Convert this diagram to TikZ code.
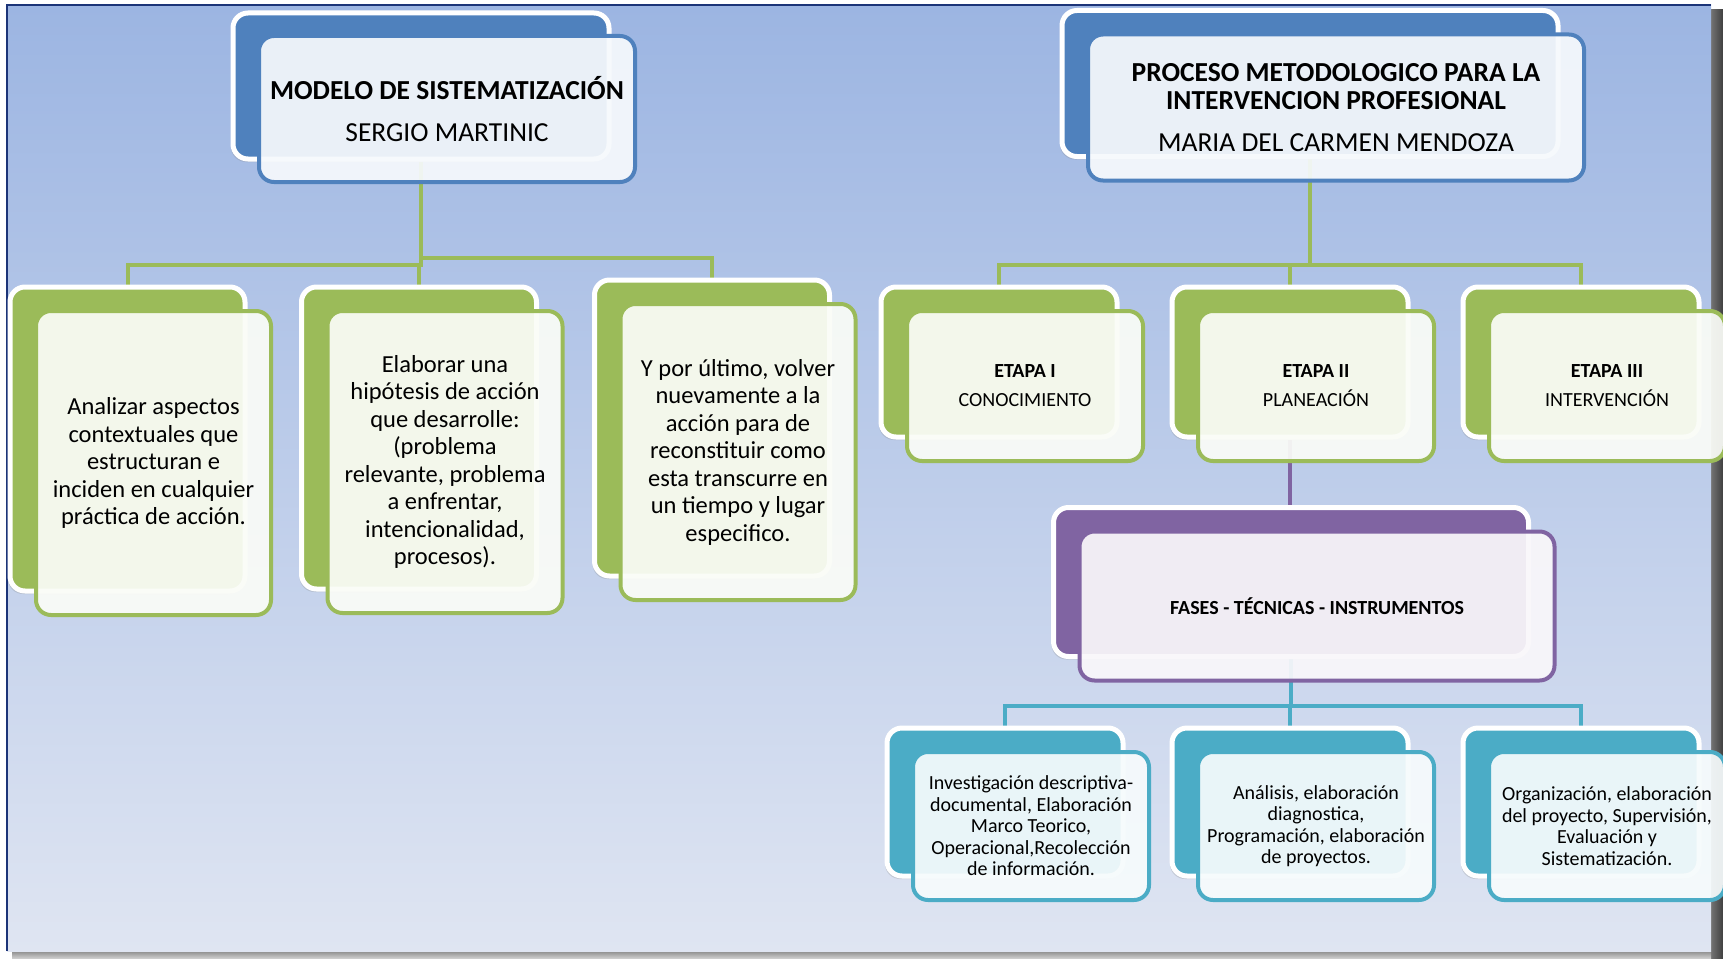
\documentclass[tikz,border=0pt]{standalone}
\usepackage{fontspec}
\setmainfont{Carlito}
\usetikzlibrary{shadows}

\definecolor{hdrblue}{RGB}{79,129,189}
\definecolor{leaf}{RGB}{155,187,89}
\definecolor{plum}{RGB}{128,100,162}
\definecolor{aqua}{RGB}{75,172,198}
\definecolor{skytop}{RGB}{156,181,226}
\definecolor{skybot}{RGB}{223,229,242}
\definecolor{navy}{RGB}{28,52,120}

\pgfdeclarelayer{bg}
\pgfdeclarelayer{links}
\pgfsetlayers{bg,links,main}

\begin{document}
\begin{tikzpicture}[
    x=1pt, y=-1pt,
    shell/.style={draw=white, line width=5pt, rounded corners=15pt, fill=#1, drop shadow={shadow xshift=-2pt, shadow yshift=-3pt, opacity=.25}},
    card/.style={draw=#1, line width=4pt, rounded corners=15pt, fill=#1!5!white, fill opacity=.93, text opacity=1, align=center},
    link/.style={draw=#1, line width=4pt},
    hdr/.style={minimum width=#1, minimum height=146pt, font=\fontsize{27.5}{28}\selectfont},
    tall/.style={minimum width=235pt, minimum height=#1, font=\fontsize{24.5}{27.5}\selectfont},
    stage/.style={minimum width=236pt, minimum height=150pt, font=\fontsize{20}{29}\selectfont},
    leafbox/.style={minimum width=236pt, minimum height=148pt, font=\fontsize{20}{21.5}\selectfont}
]
    \useasboundingbox (0,0) rectangle (1723,958);

    % page
    \begin{pgfonlayer}{bg}
    \fill[white] (0,0) rectangle (1723,958);
    \shade[left color=black!55, right color=black!75] (1711,10) rectangle (1723,958);
    \shade[top color=black!45, bottom color=black!20] (12,951) rectangle (1711,958);
    \shade[top color=skytop, bottom color=skybot] (7,5) rectangle (1711,951);
    \draw[navy, line width=2.5pt] (7,951) -- (7,5) -- (1711,5);
    \end{pgfonlayer}

    % left tree
    \node[shell=hdrblue, hdr=376pt] (modb) at (421,86) {};
    \node[card=hdrblue, hdr=376pt] (mod) at (447,109) {\textbf{MODELO DE SISTEMATIZACIÓN}\\[14pt] SERGIO MARTINIC};

    \node[shell=leaf, tall=304pt] (a1b) at (127.5,439) {};
    \node[card=leaf, tall=304pt] (a1) at (153.5,463) {Analizar aspectos\\ contextuales que\\ estructuran e\\ inciden en cualquier\\ práctica de acción.};
    \node[shell=leaf, tall=302pt] (a2b) at (419,438) {};
    \node[card=leaf, tall=302pt] (a2) at (445,462) {Elaborar una\\ hipótesis de acción\\ que desarrolle:\\ (problema\\ relevante, problema\\ a enfrentar,\\ intencionalidad,\\ procesos).};
    \node[shell=leaf, tall=296pt] (a3b) at (712,428) {};
    \node[card=leaf, tall=296pt] (a3) at (738,452) {Y por último, volver\\ nuevamente a la\\ acción para de\\ reconstituir como\\ esta transcurre en\\ un tiempo y lugar\\ especifico.};

    % right tree
    \node[shell=hdrblue, hdr=496pt] (procb) at (1310,83.5) {};
    \node[card=hdrblue, hdr=496pt] (proc) at (1336,107.5) {\textbf{PROCESO METODOLOGICO PARA LA}\\ \textbf{INTERVENCION PROFESIONAL}\\[14pt] MARIA DEL CARMEN MENDOZA};

    \node[shell=leaf, stage] (e1b) at (999,362) {};
    \node[card=leaf, stage] (e1) at (1025,386) {\textbf{ETAPA I}\\ CONOCIMIENTO};
    \node[shell=leaf, stage] (e2b) at (1290,362) {};
    \node[card=leaf, stage] (e2) at (1316,386) {\textbf{ETAPA II}\\ PLANEACIÓN};
    \node[shell=leaf, stage] (e3b) at (1581,362) {};
    \node[card=leaf, stage] (e3) at (1607,386) {\textbf{ETAPA III}\\ INTERVENCIÓN};

    \node[shell=plum, minimum width=475pt, minimum height=149pt] (fasb) at (1291,582) {};
    \node[card=plum, minimum width=475pt, minimum height=149pt, font=\fontsize{20}{22}\selectfont] (fas) at (1317,606) {\textbf{FASES - TÉCNICAS - INSTRUMENTOS}};

    \node[shell=aqua, leafbox] (t1b) at (1005,802) {};
    \node[card=aqua, leafbox] (t1) at (1031,826) {Investigación descriptiva-\\ documental, Elaboración\\ Marco Teorico,\\ Operacional,Recolección\\ de información.};
    \node[shell=aqua, leafbox] (t2b) at (1290,802) {};
    \node[card=aqua, leafbox] (t2) at (1316,826) {Análisis, elaboración\\ diagnostica,\\ Programación, elaboración\\ de proyectos.};
    \node[shell=aqua, leafbox] (t3b) at (1581,802) {};
    \node[card=aqua, leafbox] (t3) at (1607,826) {Organización, elaboración\\ del proyecto, Supervisión,\\ Evaluación y\\ Sistematización.};

    % connectors behind the boxes
    \begin{pgfonlayer}{links}
    \draw[link=leaf] (modb.south) |- ([yshift=20pt]a1b.north) -- (a1b.north);
    \draw[link=leaf] (modb.south) |- ([yshift=20pt]a2b.north) -- (a2b.north);
    \draw[link=leaf] (modb.south) |- ([yshift=20pt]a3b.north) -- (a3b.north);
    \draw[link=leaf] (procb.south) |- ([yshift=20pt]e1b.north) -- (e1b.north);
    \draw[link=leaf] (procb.south) |- ([yshift=20pt]e2b.north) -- (e2b.north);
    \draw[link=leaf] (procb.south) |- ([yshift=20pt]e3b.north) -- (e3b.north);
    \draw[link=plum] (e2b.south) -- (e2b.south |- fasb.north);
    \draw[link=aqua] (fasb.south) |- ([yshift=20pt]t1b.north) -- (t1b.north);
    \draw[link=aqua] (fasb.south) |- ([yshift=20pt]t2b.north) -- (t2b.north);
    \draw[link=aqua] (fasb.south) |- ([yshift=20pt]t3b.north) -- (t3b.north);
    \end{pgfonlayer}
\end{tikzpicture}
\end{document}
